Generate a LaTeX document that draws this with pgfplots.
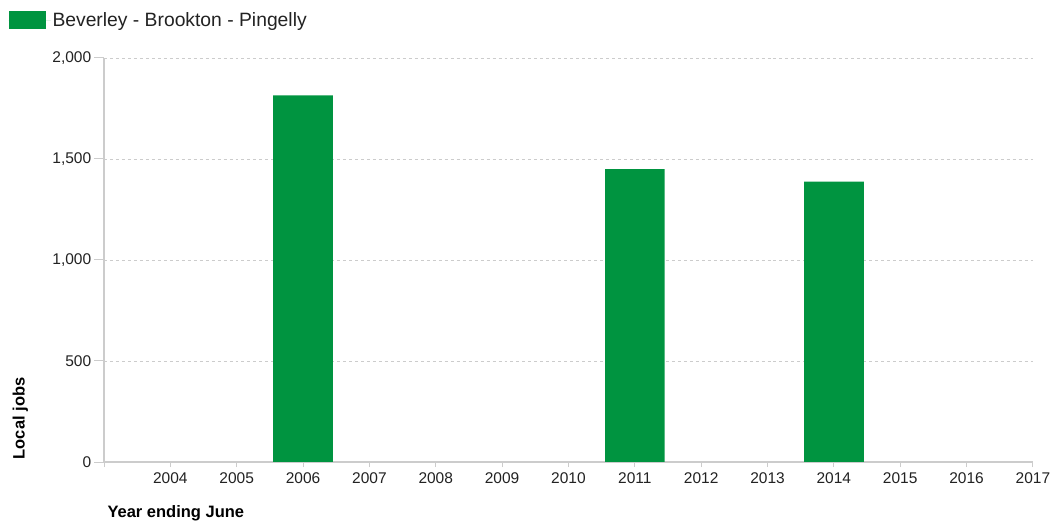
\documentclass[border=0pt]{standalone}
\usepackage{fontspec}
\setmainfont{Liberation Sans}
\usepackage{pgfplots}
\pgfplotsset{compat=1.18}
\definecolor{barGreen}{RGB}{0,148,64}
\definecolor{axisGrey}{RGB}{204,204,204}
\definecolor{txt}{RGB}{34,34,34}
\begin{document}
\begin{tikzpicture}
\useasboundingbox (0,0) rectangle (1051bp,525bp);
\begin{axis}[
  at={(104bp,63bp)}, anchor=south west,
  scale only axis, width=929bp, height=404bp,
  xmin=2003, xmax=2017, ymin=0, ymax=2000,
  axis x line*=bottom, axis y line*=left,
  axis line style={axisGrey, line width=1.2bp},
  xtick={2003,...,2017},
  xticklabels={,2004,2005,2006,2007,2008,2009,2010,2011,2012,2013,2014,2015,2016,2017},
  ytick={0,500,1000,1500,2000},
  tick style={axisGrey, line width=1bp},
  xtick style={/pgfplots/major tick length=5bp},
  ytick style={/pgfplots/major tick length=10bp},
  tick align=outside,
  ymajorgrids,
  major grid style={dashed, axisGrey, line width=0.8bp},
  /pgf/number format/assume math mode=true,
  yticklabel style={/pgf/number format/1000 sep={,}, font=\fontsize{15.5bp}{18bp}\selectfont, text=txt, xshift=-5bp},
  xticklabel style={font=\fontsize{15.5bp}{18bp}\selectfont, text=txt, yshift=-3bp},
  xlabel={Year ending June},
  xlabel style={at={(rel axis cs:0,-0.126)}, anchor=west, font=\bfseries\fontsize{16.5bp}{19bp}\selectfont, text=black},
  ylabel={Local jobs},
  ylabel style={at={(rel axis cs:-0.09,0.108)}, anchor=center, font=\bfseries\fontsize{16.5bp}{19bp}\selectfont, text=black},
  ybar, bar width=0.9,
  legend style={at={(rel axis cs:-0.103,1.094)}, anchor=west, draw=none, fill=none,
    font=\fontsize{19.3bp}{22bp}\selectfont, text=txt, inner sep=0pt},
  legend cell align=left,
  legend image code/.code={\fill[#1] (0bp,-9bp) rectangle (37bp,9bp);\path (0bp,0bp) -- (42bp,0bp);},
]
\addplot[fill=barGreen, draw=none] coordinates {(2006,1815) (2011,1450) (2014,1388)};
\addlegendentry{Beverley - Brookton - Pingelly}
\end{axis}
\end{tikzpicture}
\end{document}
